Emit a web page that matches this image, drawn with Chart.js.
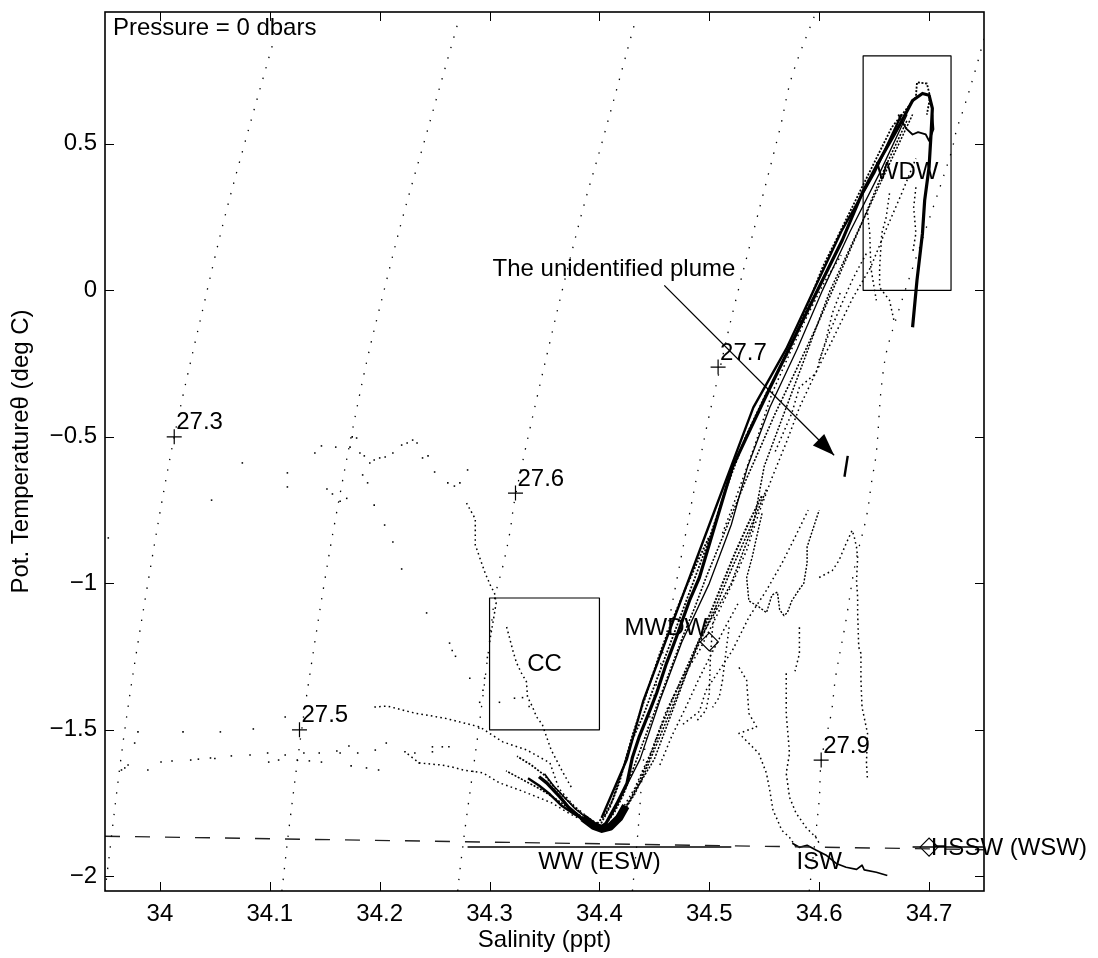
<!DOCTYPE html>
<html><head><meta charset="utf-8">
<script src="https://cdn.jsdelivr.net/npm/chart.js@4/dist/chart.umd.min.js"></script>
<style>html,body{margin:0;padding:0;background:#fff}canvas{display:block}</style>
</head><body>
<canvas id="c" width="1098" height="958"></canvas>
<script>
// ---------- axes ----------
const xTicks = [34, 34.1, 34.2, 34.3, 34.4, 34.5, 34.6, 34.7];
const yTicks = [-2, -1.5, -1, -0.5, 0, 0.5];

// ---------- density contours (sigma-0) ----------
const contour273 = [[33.950,-2.05],[33.968,-1.5],[33.989,-1.0],[34.013,-0.5],[34.043,0.0],[34.059,0.25],[34.077,0.5],[34.103,0.845]];
const contour275 = [[34.111,-2.05],[34.118,-1.82],[34.129,-1.5],[34.141,-1.2],[34.150,-0.99],[34.159,-0.795],[34.174,-0.5],[34.189,-0.23],[34.204,0.0],[34.221,0.25],[34.240,0.5],[34.271,0.91]];
const contour276 = [[34.271,-2.05],[34.273,-1.98],[34.279,-1.8],[34.290,-1.5],[34.300,-1.2],[34.305,-1.045],[34.312,-0.943],[34.318,-0.836],[34.324,-0.692],[34.356,-0.159],[34.383,0.25],[34.402,0.5],[34.432,0.91]];
const contour277 = [[34.430,-2.05],[34.435,-1.85],[34.442,-1.545],[34.457,-1.25],[34.477,-0.86],[34.488,-0.647],[34.498,-0.46],[34.509,-0.278],[34.523,-0.05],[34.564,0.547],[34.575,0.728],[34.597,0.95]];
const contour279 = [[34.591,-2.05],[34.600,-1.74],[34.602,-1.603],[34.611,-1.443],[34.615,-1.318],[34.624,-1.135],[34.633,-0.93],[34.643,-0.773],[34.648,-0.647],[34.652,-0.555],[34.657,-0.316],[34.664,-0.17],[34.720,0.468],[34.725,0.547],[34.732,0.626],[34.743,0.762],[34.749,0.844],[34.756,0.93]];
const contourLabels = ['27.3','27.5','27.6','27.7','27.9'];
const contourLabelS = [34.013, 34.127, 34.3236, 34.508, 34.6018];
const contourLabelT = [-0.5, -1.5, -0.692, -0.262, -1.603];

// ---------- reference lines / water masses ----------
const freezingLine = [[33.95,-1.863],[34.75,-1.909]];
const wwLine = [[34.28,-1.9],[34.52,-1.9]];
const hsswLine = [[34.685,-1.9],[34.75,-1.9]];
const wdwBox = [[34.64,0],[34.72,0],[34.72,0.8],[34.64,0.8],[34.64,0]];
const ccBox = [[34.3,-1.5],[34.4,-1.5],[34.4,-1.05],[34.3,-1.05],[34.3,-1.5]];
const markerS = [34.5, 34.7];
const markerT = [-1.2, -1.9];
const arrowFrom = [34.459, 0.017];
const arrowTo = [34.6136, -0.563];
const annText = ['The unidentified plume','WDW','CC','MWDW','WW (ESW)','ISW','HSSW (WSW)'];
const annS = [34.3027, 34.68, 34.35, 34.498, 34.40, 34.60, 34.7018];
const annT = [0.072, 0.403, -1.276, -1.153, -1.952, -1.952, -1.904];

// ---------- CTD data tracks (S, theta) ----------
const coreTrack = [[34.400,-1.836],[34.406,-1.819],[34.416,-1.751],[34.425,-1.683],[34.430,-1.594],[34.436,-1.526],[34.446,-1.433],[34.452,-1.375],[34.461,-1.273],[34.470,-1.184],[34.482,-1.058],[34.491,-0.980],[34.503,-0.829],[34.521,-0.604],[34.538,-0.468],[34.555,-0.334],[34.594,-0.034],[34.621,0.171],[34.639,0.331],[34.655,0.444],[34.673,0.563],[34.685,0.648],[34.694,0.672],[34.700,0.666],[34.703,0.621],[34.702,0.546],[34.700,0.420],[34.696,0.307],[34.694,0.195],[34.689,0.034],[34.685,-0.126]];
const edgeTrack = [[34.400,-1.83],[34.410,-1.76],[34.420,-1.65],[34.428,-1.55],[34.440,-1.45],[34.452,-1.33],[34.465,-1.2],[34.480,-1.05],[34.497,-0.88],[34.515,-0.68],[34.533,-0.5],[34.552,-0.35],[34.573,-0.205],[34.603,0.078],[34.639,0.352],[34.666,0.556],[34.688,0.659],[34.689,0.71],[34.698,0.706],[34.701,0.66],[34.698,0.60]];
const bandA = [[34.402,-1.80],[34.425,-1.60],[34.440,-1.40],[34.460,-1.20],[34.480,-1.00],[34.500,-0.80],[34.520,-0.60],[34.540,-0.40],[34.570,-0.20],[34.595,0.0],[34.620,0.2],[34.650,0.4],[34.675,0.6]];
const bandB = [[34.410,-1.80],[34.437,-1.60],[34.455,-1.40],[34.475,-1.20],[34.500,-1.00],[34.520,-0.80],[34.535,-0.60],[34.555,-0.40],[34.580,-0.20],[34.603,0.0],[34.628,0.2],[34.655,0.4],[34.680,0.6]];
const bandC = [[34.418,-1.80],[34.450,-1.60],[34.470,-1.40],[34.490,-1.20],[34.520,-1.00],[34.540,-0.80],[34.550,-0.60],[34.570,-0.40],[34.590,-0.20],[34.610,0.0],[34.635,0.2],[34.660,0.4],[34.685,0.6]];
const lowLeftTrack = [[34.398,-1.82],[34.405,-1.79],[34.412,-1.74],[34.418,-1.68],[34.424,-1.6],[34.430,-1.52],[34.438,-1.43],[34.446,-1.34],[34.455,-1.24],[34.466,-1.13],[34.478,-1.02],[34.490,-0.92],[34.500,-0.84]];
const lowRightTrack = [[34.410,-1.835],[34.418,-1.80],[34.428,-1.74],[34.437,-1.67],[34.445,-1.60],[34.455,-1.50],[34.466,-1.40],[34.478,-1.30],[34.490,-1.20],[34.500,-1.11],[34.512,-1.0],[34.523,-0.9],[34.535,-0.8],[34.548,-0.7]];
const midTrack1 = [[34.404,-1.83],[34.414,-1.78],[34.422,-1.72],[34.430,-1.64],[34.438,-1.56],[34.447,-1.47],[34.456,-1.38],[34.466,-1.28],[34.476,-1.18],[34.487,-1.08],[34.497,-0.98],[34.508,-0.88],[34.520,-0.77],[34.533,-0.65],[34.546,-0.54],[34.560,-0.42],[34.578,-0.28],[34.598,-0.12],[34.618,0.05],[34.640,0.24],[34.660,0.42],[34.680,0.58]];
const midTrack2 = [[34.408,-1.84],[34.420,-1.79],[34.432,-1.72],[34.442,-1.64],[34.452,-1.55],[34.462,-1.46],[34.472,-1.37],[34.483,-1.27],[34.495,-1.17],[34.507,-1.07],[34.518,-0.97],[34.530,-0.87],[34.542,-0.77],[34.552,-0.68]];
const vBottom = [[34.385,-1.80],[34.395,-1.828],[34.402,-1.838],[34.410,-1.83],[34.418,-1.80],[34.424,-1.76]];
const apexLoop = [[34.672,0.60],[34.679,0.553],[34.685,0.532],[34.690,0.54],[34.697,0.532],[34.700,0.51],[34.704,0.55],[34.703,0.60]];
const leftArmA = [[34.403,-1.836],[34.393,-1.826],[34.382,-1.797],[34.372,-1.765],[34.364,-1.729],[34.352,-1.681],[34.345,-1.66]];
const leftArmD = [[34.400,-1.835],[34.390,-1.815],[34.378,-1.79],[34.366,-1.76],[34.355,-1.72],[34.345,-1.69],[34.335,-1.665]];
const leftArmE = [[34.398,-1.82],[34.385,-1.79],[34.372,-1.745],[34.360,-1.70],[34.350,-1.655],[34.338,-1.62],[34.325,-1.59]];
const leftArmF = [[34.400,-1.83],[34.390,-1.81],[34.375,-1.775],[34.360,-1.735],[34.345,-1.70],[34.330,-1.67],[34.315,-1.64]];
const leftArmG = [[34.398,-1.825],[34.388,-1.80],[34.378,-1.77],[34.368,-1.73],[34.358,-1.69],[34.350,-1.65]];
const leftArmB = [[34.400,-1.83],[34.385,-1.81],[34.370,-1.78],[34.357,-1.75],[34.346,-1.733],[34.327,-1.705],[34.309,-1.681],[34.294,-1.647],[34.276,-1.637],[34.266,-1.627],[34.256,-1.62],[34.236,-1.613],[34.223,-1.575]];
const leftArmC = [[34.390,-1.80],[34.377,-1.76],[34.363,-1.70],[34.355,-1.613],[34.334,-1.569],[34.312,-1.541],[34.291,-1.49],[34.259,-1.46],[34.232,-1.443],[34.207,-1.419],[34.195,-1.422]];
const ccTrack = [[34.3155,-1.149],[34.318,-1.183],[34.321,-1.227],[34.3245,-1.271],[34.329,-1.306],[34.3336,-1.336],[34.3345,-1.387],[34.339,-1.421],[34.3427,-1.455],[34.348,-1.482],[34.356,-1.568],[34.366,-1.64],[34.375,-1.70]];
const descentTrack = [[34.279,-0.726],[34.287,-0.78],[34.287,-0.869],[34.296,-0.965],[34.301,-1.009],[34.3045,-1.033],[34.306,-1.067],[34.3045,-1.101],[34.303,-1.135],[34.300,-1.2]];
const dot1 = [[34.416,-1.80],[34.432,-1.70],[34.448,-1.567],[34.461,-1.433],[34.476,-1.32],[34.491,-1.229],[34.506,-1.116],[34.521,-1.0],[34.534,-0.887],[34.545,-0.761],[34.557,-0.64],[34.570,-0.52],[34.582,-0.40],[34.597,-0.28],[34.612,-0.17],[34.630,-0.03],[34.647,0.08],[34.660,0.2],[34.675,0.33],[34.688,0.45]];
const dot2 = [[34.476,-1.481],[34.491,-1.437],[34.497,-1.365],[34.509,-1.297],[34.521,-1.229],[34.536,-1.116],[34.552,-1.024],[34.566,-0.932],[34.577,-0.85],[34.590,-0.75]];
const dot3 = [[34.512,-0.829],[34.521,-0.741],[34.530,-0.648],[34.543,-0.512],[34.557,-0.352],[34.575,-0.2],[34.590,-0.08],[34.605,0.03],[34.620,0.12]];
const dot4 = [[34.560,-0.55],[34.575,-0.42],[34.582,-0.331],[34.597,-0.283],[34.606,-0.171],[34.612,-0.078],[34.620,0.0]];
const dot5 = [[34.600,-0.239],[34.609,-0.147],[34.620,-0.05],[34.630,0.034],[34.636,0.078],[34.643,0.126]];
const dot6 = [[34.644,0.263],[34.646,0.195],[34.647,0.078],[34.650,0.01],[34.652,-0.034]];
const dot7 = [[34.664,0.331],[34.661,0.25],[34.657,0.195],[34.655,0.078],[34.655,0.01],[34.664,-0.034],[34.668,-0.102]];
const dot8 = [[34.688,0.352],[34.686,0.283],[34.688,0.195],[34.685,0.126]];
const dot9 = [[34.506,-1.082],[34.503,-1.15],[34.501,-1.25],[34.500,-1.375],[34.497,-1.433],[34.489,-1.468]];
const dot10 = [[34.518,-1.15],[34.515,-1.239],[34.512,-1.331],[34.509,-1.389],[34.503,-1.423]];
const dot11 = [[34.527,-1.287],[34.534,-1.331],[34.536,-1.444],[34.540,-1.47],[34.543,-1.49],[34.527,-1.512],[34.545,-1.58],[34.552,-1.648],[34.555,-1.706],[34.558,-1.775],[34.561,-1.799],[34.566,-1.843],[34.573,-1.867],[34.579,-1.9]];
const dot12 = [[34.570,-1.307],[34.570,-1.444],[34.573,-1.58],[34.570,-1.648],[34.573,-1.73],[34.579,-1.785],[34.582,-1.80],[34.588,-1.833],[34.597,-1.867],[34.600,-1.887]];
const dot13 = [[34.455,-1.62],[34.466,-1.52],[34.479,-1.42],[34.490,-1.33],[34.502,-1.24],[34.513,-1.16],[34.526,-1.07]];
const dot14 = [[34.582,-1.15],[34.582,-1.24],[34.578,-1.30]];
const wiggleTrack = [[34.548,-0.761],[34.543,-0.843],[34.539,-0.911],[34.534,-0.98],[34.536,-1.06],[34.545,-1.08],[34.552,-1.10],[34.557,-1.04],[34.562,-1.03],[34.564,-1.09],[34.568,-1.11],[34.571,-1.10],[34.575,-1.06],[34.582,-1.02],[34.586,-1.0],[34.589,-0.93],[34.589,-0.876],[34.593,-0.83],[34.597,-0.784],[34.600,-0.75]];
const peakTrack = [[34.600,-0.98],[34.612,-0.956],[34.618,-0.922],[34.6245,-0.864],[34.630,-0.819],[34.632,-0.843],[34.634,-0.877],[34.635,-0.911],[34.634,-0.99],[34.635,-1.048],[34.635,-1.102],[34.636,-1.218],[34.638,-1.239],[34.638,-1.331],[34.639,-1.423],[34.644,-1.512],[34.643,-1.614],[34.644,-1.672]];
const iswTail = [[34.5755,-1.887],[34.582,-1.901],[34.589,-1.894],[34.597,-1.91],[34.606,-1.927],[34.6155,-1.956],[34.6245,-1.969],[34.634,-1.976],[34.639,-1.962],[34.641,-1.978],[34.652,-1.986],[34.662,-1.997]];
const plume = [[34.626,-0.565],[34.623,-0.636]];
const scatterLeft = [[33.953,-0.845],[34.075,-0.589],[34.047,-0.716],[34.116,-0.623],[34.116,-0.671],[34.141,-0.555],[34.147,-0.531],[34.160,-0.535],[34.173,-0.535],[34.175,-0.5],[34.179,-0.504],[34.182,-0.555],[34.186,-0.565],[34.191,-0.589],[34.195,-0.579],[34.200,-0.572],[34.205,-0.569],[34.212,-0.555],[34.220,-0.528],[34.225,-0.521],[34.230,-0.511],[34.234,-0.521],[34.239,-0.572],[34.244,-0.565],[34.250,-0.62],[34.262,-0.657],[34.268,-0.668],[34.273,-0.657],[34.280,-0.613],[34.152,-0.678],[34.157,-0.695],[34.164,-0.72],[34.170,-0.71],[34.1845,-0.63],[34.189,-0.657],[34.195,-0.733],[34.2045,-0.801],[34.212,-0.859],[34.220,-0.951],[34.2427,-1.101],[34.2636,-1.204],[34.266,-1.229],[34.269,-1.249],[34.282,-1.324],[34.294,-1.365],[34.291,-1.406],[34.2955,-1.324],[34.298,-1.253],[34.309,-1.406],[34.3227,-1.392],[34.330,-1.39],[34.336,-1.42]];
const scatterBand = [[33.965,-1.637],[33.968,-1.63],[33.971,-1.62],[33.977,-1.545],[33.980,-1.507],[33.989,-1.637],[34.001,-1.61],[34.011,-1.606],[34.021,-1.507],[34.028,-1.603],[34.035,-1.6],[34.046,-1.596],[34.050,-1.598],[34.055,-1.507],[34.065,-1.589],[34.082,-1.586],[34.085,-1.497],[34.098,-1.579],[34.099,-1.61],[34.108,-1.603],[34.114,-1.586],[34.114,-1.456],[34.125,-1.603],[34.131,-1.579],[34.136,-1.606],[34.145,-1.579],[34.147,-1.61],[34.161,-1.572],[34.164,-1.579],[34.172,-1.555],[34.174,-1.623],[34.180,-1.579],[34.188,-1.63],[34.196,-1.569],[34.199,-1.637],[34.206,-1.545],[34.223,-1.575],[34.232,-1.579],[34.236,-1.613],[34.248,-1.558],[34.248,-1.575],[34.257,-1.558],[34.263,-1.558]];

// ---------- build ----------
const P = a => a.map(([x, y]) => ({x, y}));
const FONT = '"Liberation Sans", Arial, Helvetica, sans-serif';
function lineDS(a, w, dash, tension) {
  return {data: P(a), showLine: true, borderColor: '#000', backgroundColor: '#000', borderWidth: w,
    borderDash: dash || [], pointRadius: 0, tension: tension || 0, borderJoinStyle: 'round', borderCapStyle: 'butt'};
}
function dotDS(a, r) {
  return {data: P(a), showLine: false, pointRadius: r, pointStyle: 'rect', backgroundColor: '#000', borderWidth: 0};
}
const CONTOUR_DASH = [1.4, 9.5];
const SPARSE = [1.6, 3.2];
const MED = [2, 1.6];
const datasets = [
  lineDS(contour273, 1.3, CONTOUR_DASH, 0.35),
  lineDS(contour275, 1.3, CONTOUR_DASH, 0.35),
  lineDS(contour276, 1.3, CONTOUR_DASH, 0.35),
  lineDS(contour277, 1.3, CONTOUR_DASH, 0.35),
  lineDS(contour279, 1.3, CONTOUR_DASH, 0.35),
  Object.assign(lineDS(freezingLine, 1.4, [15, 15]), {borderColor: '#222'}),
  lineDS(wwLine, 1.5),
  lineDS(hsswLine, 1.5),
  lineDS(wdwBox, 1.2),
  lineDS(ccBox, 1.2),
  lineDS([arrowFrom, arrowTo], 1.3),
  lineDS(dot1, 1.5, SPARSE), lineDS(dot2, 1.5, SPARSE), lineDS(dot3, 1.5, SPARSE),
  lineDS(dot4, 1.5, SPARSE), lineDS(dot5, 1.5, SPARSE), lineDS(dot6, 1.5, SPARSE),
  lineDS(dot7, 1.5, SPARSE), lineDS(dot8, 1.5, SPARSE), lineDS(dot9, 1.5, SPARSE),
  lineDS(dot10, 1.5, SPARSE), lineDS(dot11, 1.5, SPARSE), lineDS(dot12, 1.5, SPARSE),
  lineDS(dot13, 1.5, SPARSE), lineDS(dot14, 1.5, SPARSE),
  lineDS(wiggleTrack, 1.4, MED), lineDS(peakTrack, 1.5, SPARSE),
  lineDS(leftArmB, 1.5, SPARSE), lineDS(leftArmC, 1.5, SPARSE),
  lineDS(ccTrack, 1.5, SPARSE), lineDS(descentTrack, 1.5, SPARSE),
  lineDS(midTrack1, 1.6, MED), lineDS(midTrack2, 1.6, MED),
  lineDS(lowLeftTrack, 2, MED), lineDS(lowRightTrack, 2, MED),
  lineDS(bandC, 1.5, MED), lineDS(bandB, 1.3), lineDS(bandA, 2.4),
  lineDS(edgeTrack, 1.8, MED), lineDS(coreTrack, 3.2), lineDS(apexLoop, 1.8),
  lineDS(leftArmF, 1.6, MED), lineDS(leftArmG, 1.5),
  lineDS(leftArmE, 1.8, MED), lineDS(leftArmD, 2.4), lineDS(leftArmA, 3.4), lineDS(vBottom, 8),
  lineDS(iswTail, 1.7), lineDS(plume, 2.4),
  dotDS(scatterLeft, 1.1), dotDS(scatterBand, 1.1),
  {data: P(contourLabelS.map((s, i) => [s, contourLabelT[i]])), showLine: false, pointStyle: 'cross',
    pointRadius: 7.5, borderColor: '#000', borderWidth: 1.2, backgroundColor: '#000'},
  {data: P(markerS.map((s, i) => [s, markerT[i]])), showLine: false, pointStyle: 'rectRot',
    pointRadius: 9, borderColor: '#000', borderWidth: 1.2, backgroundColor: '#fff'}
];

const decor = {
  id: 'decor',
  afterDatasetsDraw(chart) {
    const {ctx, chartArea: a, scales: {x, y}} = chart;
    ctx.save();
    ctx.strokeStyle = '#000';
    ctx.lineWidth = 1;
    ctx.beginPath();
    xTicks.forEach(v => {
      const p = Math.round(x.getPixelForValue(v)) + 0.5;
      ctx.moveTo(p, a.bottom); ctx.lineTo(p, a.bottom - 9);
      ctx.moveTo(p, a.top); ctx.lineTo(p, a.top + 9);
    });
    yTicks.forEach(v => {
      const p = Math.round(y.getPixelForValue(v)) + 0.5;
      ctx.moveTo(a.left, p); ctx.lineTo(a.left + 9, p);
      ctx.moveTo(a.right, p); ctx.lineTo(a.right - 9, p);
    });
    ctx.stroke();
    ctx.lineWidth = 1.6;
    ctx.strokeRect(a.left, a.top, a.right - a.left, a.bottom - a.top);

    // arrow head
    const x0 = x.getPixelForValue(arrowFrom[0]), y0 = y.getPixelForValue(arrowFrom[1]);
    const x1 = x.getPixelForValue(arrowTo[0]), y1 = y.getPixelForValue(arrowTo[1]);
    const ang = Math.atan2(y1 - y0, x1 - x0), L = 22, W = 8;
    ctx.fillStyle = '#000';
    ctx.beginPath();
    ctx.moveTo(x1, y1);
    ctx.lineTo(x1 - L * Math.cos(ang) + W * Math.sin(ang), y1 - L * Math.sin(ang) - W * Math.cos(ang));
    ctx.lineTo(x1 - L * Math.cos(ang) - W * Math.sin(ang), y1 - L * Math.sin(ang) + W * Math.cos(ang));
    ctx.closePath();
    ctx.fill();

    ctx.font = '24px ' + FONT;
    ctx.fillStyle = '#000';
    ctx.textAlign = 'left'; ctx.textBaseline = 'middle';
    contourLabels.forEach((t, i) => {
      ctx.fillText(t, x.getPixelForValue(contourLabelS[i]) + 2, y.getPixelForValue(contourLabelT[i]) - 14);
    });
    const aligns = ['left', 'center', 'center', 'right', 'center', 'center', 'left'];
    annText.forEach((t, i) => {
      ctx.textAlign = aligns[i];
      ctx.fillText(t, x.getPixelForValue(annS[i]), y.getPixelForValue(annT[i]));
    });
    ctx.textAlign = 'left'; ctx.textBaseline = 'alphabetic';
    ctx.fillText('Pressure = 0 dbars', a.left + 8, a.top + 23);
    ctx.restore();
  }
};

const fmt = v => {
  const s = String(Number(Math.abs(v).toFixed(2)));
  return v < 0 ? '\u2212' + s : s;
};

new Chart(document.getElementById('c'), {
  type: 'scatter',
  data: {datasets},
  options: {
    responsive: false, animation: false, devicePixelRatio: 1,
    layout: {padding: {top: 12, right: 114, left: 0, bottom: 0}},
    plugins: {legend: {display: false}, tooltip: {enabled: false}},
    scales: {
      x: {
        type: 'linear', min: 33.95, max: 34.75,
        afterBuildTicks: s => { s.ticks = xTicks.map(v => ({value: v})); },
        afterFit: s => { s.height = 67; s.paddingLeft = 0; s.paddingRight = 0; },
        grid: {display: false, drawTicks: false}, border: {display: false},
        ticks: {color: '#000', font: {family: FONT, size: 24}, padding: 9, maxRotation: 0, autoSkip: false, callback: v => fmt(v)},
        title: {display: true, text: 'Salinity (ppt)', color: '#000', font: {family: FONT, size: 24}, padding: {top: 0, bottom: 3}}
      },
      y: {
        type: 'linear', min: -2.05, max: 0.95,
        afterBuildTicks: s => { s.ticks = yTicks.map(v => ({value: v})); },
        afterFit: s => { s.width = 105; s.paddingTop = 0; s.paddingBottom = 0; },
        grid: {display: false, drawTicks: false}, border: {display: false},
        ticks: {color: '#000', font: {family: FONT, size: 24}, padding: 8, autoSkip: false, callback: v => fmt(v)},
        title: {display: true, text: 'Pot. Temperature\u03B8 (deg C)', color: '#000', font: {family: FONT, size: 24}, padding: {top: 7, bottom: 0}}
      }
    }
  },
  plugins: [decor]
});
</script>
</body></html>
